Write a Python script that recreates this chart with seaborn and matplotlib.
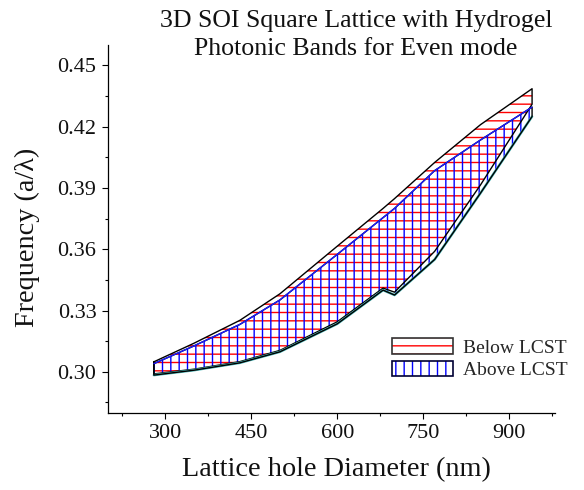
import matplotlib
matplotlib.use("Agg")
import matplotlib.pyplot as plt
import seaborn as sns
from matplotlib.patches import Patch
from matplotlib.legend_handler import HandlerTuple
from matplotlib.ticker import MultipleLocator, FormatStrFormatter

# Lattice hole diameters (nm) at which the band edges were computed
diameter = [280, 350, 430, 500, 600, 680, 700, 770, 850, 940]

# Band edges (a/lambda) below the LCST
below_upper = [0.3049, 0.3140, 0.3252, 0.3382, 0.3615, 0.3800, 0.3848, 0.4025, 0.4210, 0.4386]
below_lower = [0.2990, 0.3013, 0.3050, 0.3105, 0.3245, 0.3410, 0.3390, 0.3590, 0.3915, 0.4310]

# Band edges (a/lambda) above the LCST
above_upper = [0.3040, 0.3127, 0.3232, 0.3352, 0.3575, 0.3755, 0.3800, 0.3985, 0.4135, 0.4296]
above_lower = [0.2984, 0.3008, 0.3044, 0.3098, 0.3235, 0.3400, 0.3376, 0.3550, 0.3875, 0.4250]

labels = ["Below LCST", "Above LCST"]
x_ticks = [300, 450, 600, 750, 900]
y_ticks = [0.30, 0.33, 0.36, 0.39, 0.42, 0.45]

sns.set_style("ticks")
plt.rcParams["font.family"] = ["Liberation Serif", "DejaVu Serif"]
plt.rcParams["hatch.linewidth"] = 1.0

W, H = 584, 490
fig = plt.figure(figsize=(W / 100, H / 100), dpi=100)
ax = fig.add_axes([108 / W, 1 - 412.7 / H, (555 - 108) / W, (412.7 - 45) / H])

# hatched fills
ax.fill_between(diameter, below_lower, below_upper, facecolor="none",
                edgecolor="red", hatch="--", linewidth=0, zorder=2)
ax.fill_between(diameter, above_lower, above_upper, facecolor="none",
                edgecolor="blue", hatch="||", linewidth=0, zorder=3)

# band outlines
def outline(upper, lower):
    xs = list(diameter) + list(diameter[::-1]) + [diameter[0]]
    ys = list(upper) + list(lower[::-1]) + [upper[0]]
    return xs, ys

xs, ys = outline(below_upper, below_lower)
sns.lineplot(x=xs, y=ys, sort=False, estimator=None, color="black", lw=1.0, ax=ax, zorder=4)

sns.lineplot(x=diameter, y=above_lower, sort=False, estimator=None,
             color="#48b8b8", lw=1.8, ax=ax, zorder=4)
xs, ys = outline(above_upper, above_lower)
sns.lineplot(x=xs, y=ys, sort=False, estimator=None, color="black", lw=1.0, ax=ax, zorder=5)
sns.lineplot(x=diameter, y=above_upper, sort=False, estimator=None,
             color="#1a1aff", lw=1.0, ax=ax, zorder=5)

ax.set_xlim(200, 980)
ax.set_ylim(0.28, 0.46)
ax.set_xticks(x_ticks)
ax.set_yticks(y_ticks)
ax.xaxis.set_minor_locator(MultipleLocator(75))
ax.yaxis.set_minor_locator(MultipleLocator(0.015))
ax.yaxis.set_major_formatter(FormatStrFormatter("%.2f"))
ax.tick_params(which="major", direction="out", length=4.3, width=0.8,
               labelsize=16, pad=4, color="black", labelcolor="#111111")
ax.tick_params(which="minor", direction="out", length=2.4, width=0.8, color="black")

sns.despine(ax=ax)
for side in ("left", "bottom"):
    ax.spines[side].set_linewidth(0.9)
    ax.spines[side].set_color("black")

ax.set_xlabel("Lattice hole Diameter (nm)", fontsize=20.3, color="#111111")
ax.set_ylabel("Frequency (a/\u03bb)", fontsize=20.3, color="#111111")
ax.xaxis.set_label_coords((336.5 - 108) / 447, (412.7 - 470) / 367.7)
ax.yaxis.set_label_coords((27 - 108) / 447, (412.7 - 237) / 367.7)
ax.xaxis.label.set_va("center")
ax.yaxis.label.set_va("center")

fig.text(356 / W, 1 - 10 / H,
         "3D SOI Square Lattice with Hydrogel\nPhotonic Bands for Even mode",
         ha="center", va="top", fontsize=18.6, linespacing=1.35, color="#111111")

handles = [
    (Patch(facecolor="white", edgecolor="red", hatch="--", lw=0),
     Patch(facecolor="none", edgecolor="#333333", lw=1.2)),
    (Patch(facecolor="white", edgecolor="blue", hatch="||", lw=0),
     Patch(facecolor="none", edgecolor="#000033", lw=1.2)),
]
fs = 14
fs_px = fs * 100 / 72
ax.legend(handles, labels, handler_map={tuple: HandlerTuple(ndivide=1, pad=0)},
          loc="upper left", bbox_to_anchor=(392 / W, 1 - 338 / H),
          bbox_transform=fig.transFigure, frameon=False, fontsize=fs,
          borderpad=0, borderaxespad=0, handlelength=61 / fs_px,
          handleheight=17 / fs_px, handletextpad=10 / fs_px, labelspacing=0.2)

fig.savefig("out.png", dpi=100)
